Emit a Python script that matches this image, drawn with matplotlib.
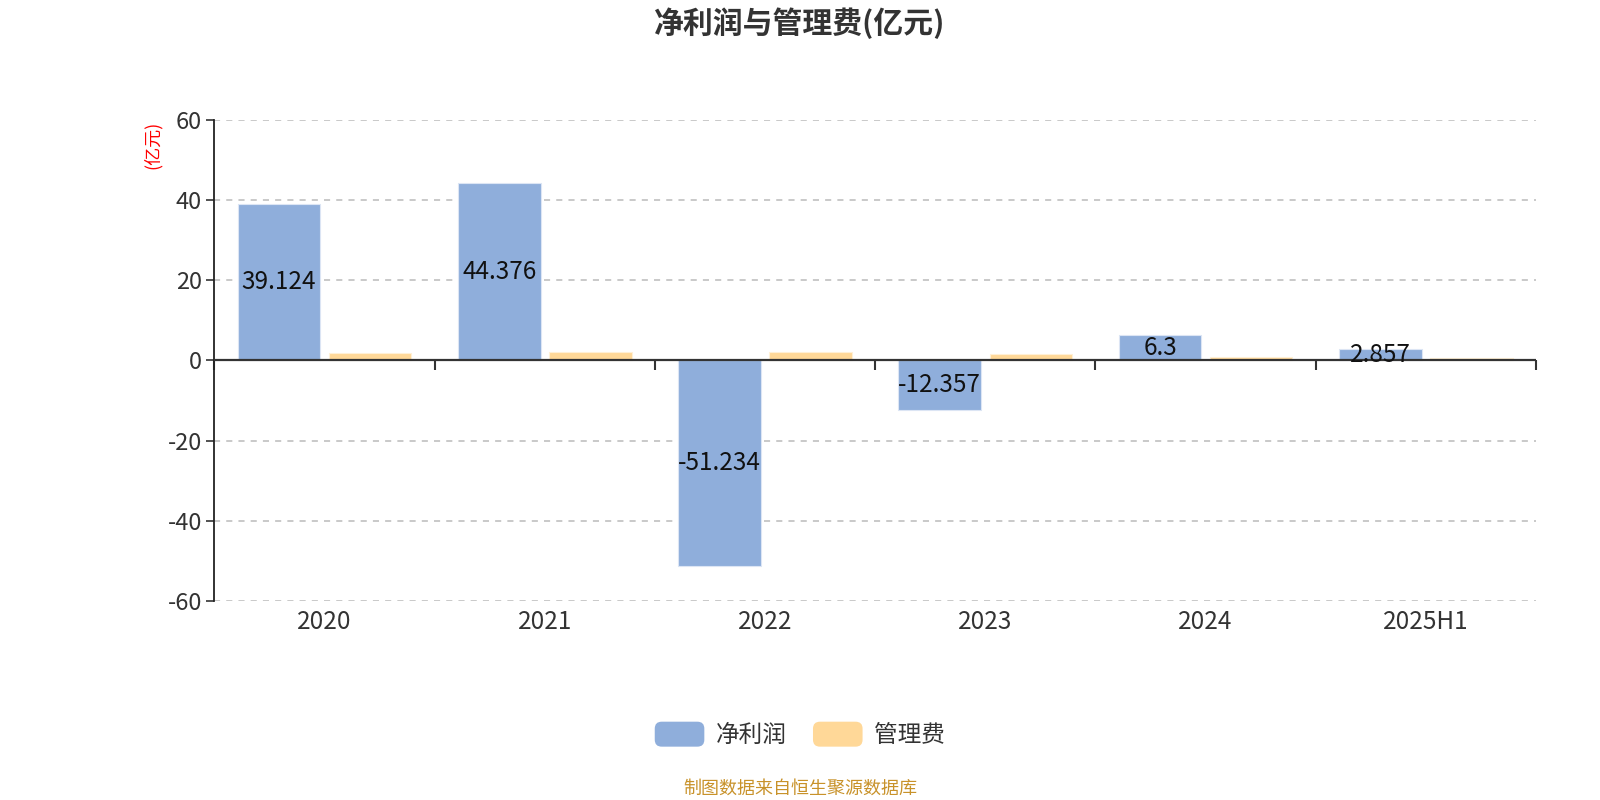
import matplotlib
matplotlib.use("Agg")
import matplotlib.pyplot as plt
from matplotlib.patches import FancyBboxPatch
from matplotlib.legend_handler import HandlerPatch
import numpy as np

plt.rcParams['font.family'] = ['Noto Sans CJK SC', 'DejaVu Sans']

categories = ["2020", "2021", "2022", "2023", "2024", "2025H1"]
net_profit = [39.124, 44.376, -51.234, -12.357, 6.3, 2.857]
mgmt_fee = [1.8, 2.1, 2.1, 1.6, 0.9, 0.5]
series_names = ["净利润", "管理费"]
yticks = [-60, -40, -20, 0, 20, 40, 60]

blue = "#8FAEDB"
orange = "#FFD898"

fig = plt.figure(figsize=(16, 8), dpi=100)
ax = fig.add_axes([0.134, 0.249, 0.826, 0.601])

x = np.arange(len(categories))
w = 0.375
off = 0.207
b1 = ax.bar(x - off, net_profit, w, color=blue, edgecolor="#DCE5F4", linewidth=0.8, label=series_names[0], zorder=3)
b2 = ax.bar(x + off, mgmt_fee, w, color=orange, edgecolor="#FFF0D6", linewidth=0.8, label=series_names[1], zorder=3)

for i, v in enumerate(net_profit):
    ax.text(x[i] - off, v / 2, f"{v:g}", ha="center", va="center", fontsize=17.5, color="#111111", zorder=6)

ax.set_xlim(-0.5, len(categories) - 0.5)
ax.set_ylim(-60, 60)
ax.set_yticks(yticks)
ax.set_yticklabels([str(t) for t in yticks], fontsize=17, color="#333333")
ax.tick_params(axis="y", length=6, width=1.2, color="#333333", pad=3)
ax.yaxis.grid(True, linestyle=(0, (4, 4)), color="#BBBBBB", linewidth=1.1, zorder=0)
ax.set_axisbelow(True)

for s in ["top", "right", "bottom"]:
    ax.spines[s].set_visible(False)
ax.spines["left"].set_color("#222222")
ax.spines["left"].set_linewidth(1.3)

ax.set_xticks(x)
ax.set_xticklabels(categories, fontsize=17.5, color="#333333")
ax.tick_params(axis="x", length=0, pad=6)

# zero axis line with boundary ticks
ax.axhline(0, color="#333333", linewidth=1.6, zorder=4)
sec = ax.secondary_xaxis(0.5)
sec.set_xticks(np.arange(len(categories) + 1) - 0.5)
sec.set_xticklabels([])
sec.tick_params(axis="x", length=7, width=1.5, color="#333333", direction="in")
for s in sec.spines.values():
    s.set_visible(False)

fig.text(0.0955, 0.819, "(亿元)", rotation=90, color="red", fontsize=13, ha="center", va="center")

fig.text(0.5, 0.971, "净利润与管理费(亿元)", ha="center", va="center", fontsize=21.5, fontweight="bold", color="#333333")


class RoundHandler(HandlerPatch):
    def create_artists(self, legend, orig_handle, xdescent, ydescent, width, height, fontsize, trans):
        p = FancyBboxPatch((-xdescent, -ydescent), width, height,
                           boxstyle="round,pad=0,rounding_size=5",
                           facecolor=orig_handle.get_facecolor(), edgecolor="none", transform=trans)
        return [p]


handles = [b1.patches[0], b2.patches[0]]
leg = fig.legend(handles, series_names, loc="center", bbox_to_anchor=(0.5, 0.082), ncol=2, frameon=False,
                 fontsize=17, handlelength=2.1, handleheight=1.25, columnspacing=1.1, handletextpad=0.5,
                 handler_map={b1.patches[0]: RoundHandler(), b2.patches[0]: RoundHandler()})
for t in leg.get_texts():
    t.set_color("#333333")

fig.text(0.5, 0.014, "制图数据来自恒生聚源数据库", ha="center", va="center", fontsize=13, color="#C8922A")

fig.savefig("out.png", dpi=100)
